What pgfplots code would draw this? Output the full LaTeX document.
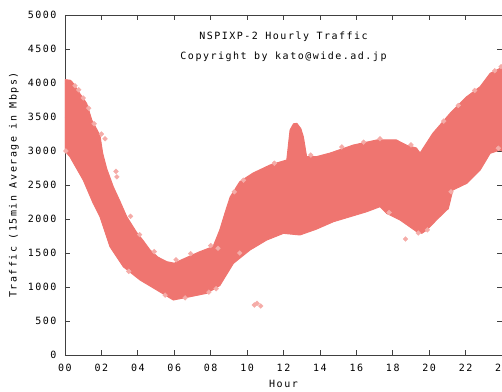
\documentclass[border=0pt]{standalone}
\usepackage{pgfplots}
\pgfplotsset{compat=1.18}
\usepackage{fontspec}
\newfontfamily\gpfont[LetterSpace=15]{DejaVu Sans Mono}
\definecolor{band}{RGB}{239,117,112}
\definecolor{bandlight}{RGB}{245,172,168}

\pgfplotstableread{
h v
0 4050
0.3 4040
0.44 4000
0.8 3850
1.19 3700
1.47 3456
1.92 3230
2.07 2966
2.29 2740
2.65 2475
3.02 2260
3.39 2034
3.94 1800
4.3 1680
4.67 1544
5.1 1440
5.59 1372
6.0 1350
6.32 1390
6.9 1460
7.4 1519
7.8 1560
8.13 1593
8.5 1838
8.8 2100
9.07 2323
9.6 2549
10.33 2676
11.26 2794
12.18 2868
12.36 3309
12.55 3400
12.73 3407
12.95 3330
13.09 3210
13.27 2916
13.8 2916
14.56 2970
15.84 3088
17.12 3162
18.2 3162
18.8 3080
19.3 3044
19.5 2970
20.2 3260
21.15 3554
22.06 3798
22.8 3946
23.35 4142
23.9 4216
24 4230
24 3000
23.9 3015
23.35 2966
22.8 2720
22.07 2525
21.3 2426
21.05 2150
20.96 2132
20.4 1985
19.87 1838
19.6 1790
19.32 1813
18.4 1985
17.66 2083
17.3 2181
16.57 2107
15.66 2034
14.74 1960
13.8 1850
12.9 1765
12.0 1789
11.08 1691
10.16 1544
9.25 1348
8.5 1020
7.78 907
6.87 857
5.95 809
5.04 956
4.12 1103
3.2 1298
2.47 1593
1.92 2034
1.74 2132
1.55 2230
1.0 2573
0.27 2916
0 3000
}\bandtable

\pgfplotstableread{
h v
0.55 3960
0.75 3900
1.0 3780
1.3 3630
1.6 3400
2.0 3250
2.2 3180
2.8 2700
2.85 2620
3.6 2040
4.1 1770
4.9 1520
6.1 1400
6.9 1490
8.0 1610
8.4 1570
9.3 2400
9.8 2570
11.5 2820
13.5 2940
15.2 3060
16.4 3130
17.3 3180
19.0 3090
20.8 3440
21.6 3670
22.5 3890
23.6 4180
23.95 4240
10.4 735
10.55 760
10.75 720
18.7 1706
17.8 2095
19.4 1795
19.9 1840
21.2 2400
23.8 3040
9.6 1500
7.9 925
8.3 975
6.6 840
5.5 880
3.5 1230
0.05 3000
}\outtable

\begin{document}
\begin{tikzpicture}
\begin{axis}[
  scale only axis, width=437pt, height=340pt,
  xmin=0, xmax=24, ymin=0, ymax=5000,
  xtick={0,2,...,24},
  xticklabels={00,02,04,06,08,10,12,14,16,18,20,22,24},
  ytick={0,500,...,5000},
  yticklabels={0,500,1000,1500,2000,2500,3000,3500,4000,4500,5000},
  tick align=inside, tick pos=both, major tick length=5pt,
  axis line style={black!75, line width=0.8pt},
  tick style={black!75, line width=0.8pt},
  ticklabel style={font=\gpfont},
  xticklabel style={yshift=-5.5pt},
  yticklabel style={xshift=-5pt},
  xlabel={Hour}, ylabel={Traffic (15min Average in Mbps)},
  every axis x label/.style={at={(axis description cs:0.5,-0.0853)}, anchor=center, font=\gpfont},
  every axis y label/.style={at={(axis description cs:-0.1167,0.5)}, anchor=center, rotate=90, font=\gpfont},
]
\addplot[fill=band, draw=band, line width=1pt] table[x=h,y=v] {\bandtable} -- cycle;
\addplot[only marks, mark=square*, mark size=1.7pt, mark options={rotate=45, fill=bandlight, draw=bandlight}] table[x=h,y=v] {\outtable};
\node[font=\gpfont, anchor=base, yshift=-24pt] at (rel axis cs:0.5,1) {NSPIXP-2 Hourly Traffic};
\node[font=\gpfont, anchor=base, yshift=-44.5pt] at (rel axis cs:0.5,1) {Copyright by kato@wide.ad.jp};
\end{axis}
\pgfresetboundingbox
\path ([xshift=-65pt,yshift=-36pt]current axis.south west) rectangle ([yshift=15pt]current axis.north east);
\end{tikzpicture}
\end{document}
